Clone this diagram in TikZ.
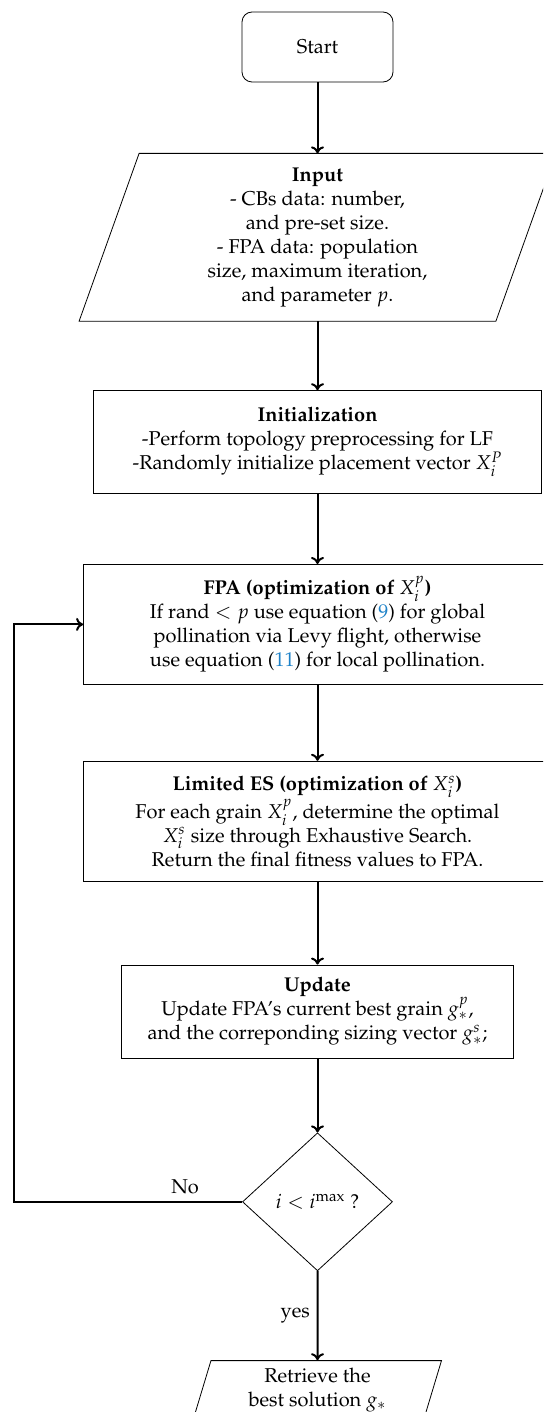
\documentclass[tikz,border=0pt]{standalone}
\usepackage[T1]{fontenc}
\usepackage{mathpazo}
\usetikzlibrary{shapes.geometric, positioning, arrows.meta}
\definecolor{linkblue}{RGB}{30,130,200}

\begin{document}
\begin{tikzpicture}[x=1pt, y=1pt,
	term/.style = {draw, rectangle, rounded corners=5pt, minimum width=75.5pt, minimum height=35pt, align=center},
	io/.style = {draw, trapezium, trapezium left angle=70, trapezium right angle=110, trapezium stretches body=true, align=center},
	proc/.style = {draw, rectangle, align=center},
	cond/.style = {draw, diamond, minimum width=75pt, minimum height=69pt, inner sep=0pt},
	line/.style = {draw, line width=1pt, -{To[length=3.5pt, width=6.5pt]}}]
	\clip (0,0) rectangle (271.5,-706);
	\node[term] (start) at (158.75,-23.5) {Start};
	\node[proc, draw=none, minimum width=208pt, minimum height=83.5pt] (input) [below=35.5pt of start] {\textbf{Input}\\- CBs data: number,\\and pre-set size.\\- FPA data: population\\size, maximum iteration,\\and parameter $p$.};
	% slanted input box
	\draw ([xshift=-15pt]input.south west) -- ([xshift=15pt]input.north west) -- ([xshift=15pt]input.north east) -- ([xshift=-15pt]input.south east) -- cycle;
	\node[proc, minimum width=224pt, minimum height=51.5pt] (init) [below=34.5pt of input] {\textbf{Initialization}\\-Perform topology preprocessing for LF\\-Randomly initialize placement vector $X_i^P$};
	\node[proc, minimum width=234pt, minimum height=60pt] (fpa) [below=35pt of init] {\textbf{FPA (optimization of $X_i^p$)}\\If rand $<p$ use equation (\textcolor{linkblue}{9}) for global\\pollination via Levy flight, otherwise\\use equation (\textcolor{linkblue}{11}) for local pollination.};
	\node[proc, minimum width=234pt, minimum height=60pt] (es) [below=38pt of fpa] {\textbf{Limited ES (optimization of $X_i^s$)}\\For each grain $X_i^p$, determine the optimal\\$X_i^s$ size through Exhaustive Search.\\Return the final fitness values to FPA.};
	\node[proc, minimum width=196pt, minimum height=46.5pt] (update) [below=41.5pt of es] {\textbf{Update}\\Update FPA's current best grain $g_*^p$,\\and the correponding sizing vector $g_*^s$;};
	\node[cond] (check) [below=37pt of update] {$i<i^{\max}$ ?};
	\node[io, minimum width=124pt, minimum height=29pt, inner ysep=1pt] (result) [below=44.5pt of check] {Retrieve the\\best solution $g_*$};
	\coordinate (turn) at (7,0);
	\draw[line] (start) -- (input);
	\draw[line] (input) -- (init);
	\draw[line] (init) -- (fpa);
	\draw[line] (fpa) -- (es);
	\draw[line] (es) -- (update);
	\draw[line] (update) -- (check);
	\draw[line] (check) -- node[left] {yes} (result);
	\draw[line] (check.west) -- node[above, pos=0.25] {No} (turn |- check.west) |- (fpa.west);
\end{tikzpicture}
\end{document}
